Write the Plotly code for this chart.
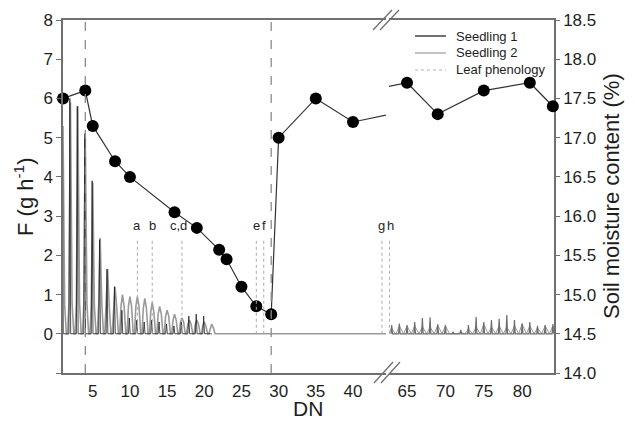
import plotly.graph_objects as go

# ---------------- data ----------------
# left segment of the broken DN axis: daily peak sap flow F (g h-1)
days_s1_left = list(range(1, 22))
s1_left_peak = [5.4, 6.0, 5.8, 5.1, 3.9, 2.4, 1.65, 1.2, 0.6, 0.4,
                0.35, 0.3, 0.35, 0.3, 0.25, 0.2, 0.3, 0.45, 0.5, 0.45, 0]
days_s2_left = list(range(1, 45))
s2_left_peak = [5.3, 5.9, 5.8, 5.0, 3.85, 2.45, 1.65, 1.2, 1.0, 0.95,
                0.95, 0.9, 0.8, 0.7, 0.6, 0.5, 0.4, 0.35, 0.35, 0.3,
                0.25, 0, 0, 0, 0, 0, 0, 0, 0, 0,
                0, 0, 0, 0, 0, 0, 0, 0, 0, 0,
                0, 0, 0, 0]
s2_left_shoulder = [0.75, 0.8, 0.8, 0.75, 0.7, 0.75, 0.7, 0.7, 0.7, 0.7,
                    0.7, 0.65, 0.55, 0.5, 0.45, 0.35, 0.3, 0.25, 0.25, 0.2,
                    0.15, 0, 0, 0, 0, 0, 0, 0, 0, 0,
                    0, 0, 0, 0, 0, 0, 0, 0, 0, 0,
                    0, 0, 0, 0]

# right segment (days 63..84)
days_right = list(range(63, 85))
s1_right_peak = [0.22, 0.26, 0.22, 0.30, 0.40, 0.42, 0.24, 0.22, 0.05, 0.10, 0.22,
                 0.43, 0.30, 0.35, 0.38, 0.48, 0.35, 0.27, 0.30, 0.20, 0.22, 0.25]
s2_right_peak = [0.15, 0.20, 0.20, 0.20, 0.18, 0.17, 0.22, 0.20, 0.0, 0.03, 0.12,
                 0.17, 0.25, 0.17, 0.20, 0.17, 0.20, 0.25, 0.20, 0.15, 0.20, 0.20]

# soil moisture content (%)
smc_days = [1, 4, 5, 8, 10, 16, 19, 22, 23, 25, 27, 29, 30, 35, 40, 65, 69, 75, 81, 84]
smc_vals = [17.5, 17.6, 17.15, 16.7, 16.5, 16.05, 15.85, 15.57, 15.45, 15.1,
            14.85, 14.75, 17.0, 17.5, 17.2, 17.7, 17.3, 17.6, 17.7, 17.4]

# leaf phenology events
phen_left_days = [11, 13, 17, 27, 28, 43.9]
phen_left_labels = ["a", "b", "c,d", "e", "f", "g"]
phen_right_days = [62.7]
phen_right_labels = ["h"]
phen_height = 2.45

# dashed reference days
dashed_days = [4, 29]

legend_names = ["Seedling 1", "Seedling 2", "Leaf phenology"]

LEFT_RANGE = [1, 44.44]
RIGHT_RANGE = [62.65, 84.15]

# ---------------- helpers ----------------
def spikes(days, peaks, offs):
    xs, ys = [], []
    for d, p in zip(days, peaks):
        xs += [d + offs[0], d + offs[1], d + offs[2]]
        ys += [0, p, 0]
    return xs, ys


def bumps(days, peaks, shoulders):
    xs, ys = [], []
    for d, p, s in zip(days, peaks, shoulders):
        xs += [d - 0.38, d - 0.2, d + 0.0, d + 0.22, d + 0.45]
        ys += [0, s, p, s, 0]
    return xs, ys


# window pixel -> paper coordinates (plot area spans x 63..554, y 20..373)
def px(xp):
    return (xp - 63) / 491.0


def py(yp):
    return (373 - yp) / 353.0


fig = go.Figure()

BLACK = "#111111"
GRAY = "#9a9a9a"
AX = "#707070"
TXT = "#1e1e1e"

# seedling 2 underneath, seedling 1 on top
x2, y2 = bumps(days_s2_left, s2_left_peak, s2_left_shoulder)
fig.add_trace(go.Scatter(x=x2, y=y2, mode="lines", line=dict(color=GRAY, width=1.6),
                         showlegend=False, xaxis="x", yaxis="y"))
x1, y1 = spikes(days_s1_left, s1_left_peak, offs=(-0.2, -0.08, 0.03))
fig.add_trace(go.Scatter(x=x1, y=y1, mode="lines", line=dict(color="#202020", width=0.8),
                         showlegend=False, xaxis="x", yaxis="y"))
x2r, y2r = spikes(days_right, s2_right_peak, offs=(-0.45, 0.0, 0.45))
fig.add_trace(go.Scatter(x=x2r, y=y2r, mode="lines", line=dict(color=GRAY, width=1),
                         showlegend=False, xaxis="x2", yaxis="y"))
x1r, y1r = spikes(days_right, s1_right_peak, offs=(-0.1, 0.0, 0.1))
fig.add_trace(go.Scatter(x=x1r, y=y1r, mode="lines", line=dict(color="#6e6e6e", width=1.2),
                         showlegend=False, xaxis="x2", yaxis="y"))

# soil moisture: lines (clipped at the break) + markers (in range only)
for xa, rng in (("x", LEFT_RANGE), ("x2", RIGHT_RANGE)):
    fig.add_trace(go.Scatter(x=smc_days, y=smc_vals, mode="lines",
                             line=dict(color="#333333", width=1.2),
                             showlegend=False, xaxis=xa, yaxis="y2"))
    md = [d for d in smc_days if rng[0] - 0.5 <= d <= rng[1] + 0.5]
    mv = [v for d, v in zip(smc_days, smc_vals) if rng[0] - 0.5 <= d <= rng[1] + 0.5]
    fig.add_trace(go.Scatter(x=md, y=mv, mode="markers",
                             marker=dict(color="#000000", size=12),
                             cliponaxis=False, showlegend=False, xaxis=xa, yaxis="y2"))

shapes = []
for d in dashed_days:
    shapes.append(dict(type="line", xref="x", yref="y domain", x0=d, x1=d, y0=0, y1=1,
                       line=dict(color="#8a8a8a", width=1.3, dash="dash")))
for d in phen_left_days:
    shapes.append(dict(type="line", xref="x", yref="y", x0=d, x1=d, y0=0, y1=phen_height,
                       line=dict(color="#a8a8a8", width=1, dash="dot")))
for d in phen_right_days:
    shapes.append(dict(type="line", xref="x2", yref="y", x0=d, x1=d, y0=0, y1=phen_height,
                       line=dict(color="#a8a8a8", width=1, dash="dot")))

# axis-break marks
for (xa, ya, xb, yb) in [(373, 30, 392, 10), (380, 30, 399, 10),
                         (374, 383, 393, 362), (381, 383, 400, 362)]:
    shapes.append(dict(type="line", xref="paper", yref="paper",
                       x0=px(xa), y0=py(ya), x1=px(xb), y1=py(yb),
                       line=dict(color=AX, width=1.3)))

# legend (drawn manually to match the compact row spacing)
leg_styles = [dict(color=BLACK, width=1.2), dict(color=GRAY, width=1.2),
              dict(color="#b0b0b0", width=1, dash="dot")]
leg_rows = [36, 53, 70]
annotations = []
for name, st, ry in zip(legend_names, leg_styles, leg_rows):
    shapes.append(dict(type="line", xref="paper", yref="paper",
                       x0=px(415), x1=px(446), y0=py(ry), y1=py(ry), line=st))
    annotations.append(dict(text=name, x=px(454), y=py(ry), xref="paper", yref="paper",
                            xanchor="left", yanchor="middle", showarrow=False,
                            font=dict(size=13, color=TXT)))

for d, t in zip(phen_left_days, phen_left_labels):
    dd = d - 0.5 if t == "c,d" else d
    annotations.append(dict(x=dd, y=2.75, xref="x", yref="y", text=t, showarrow=False,
                            xanchor="center", yanchor="middle",
                            font=dict(size=13, color=TXT)))
for d, t in zip(phen_right_days, phen_right_labels):
    annotations.append(dict(x=d + 0.2, y=2.75, xref="x2", yref="y", text=t, showarrow=False,
                            xanchor="center", yanchor="middle",
                            font=dict(size=13, color=TXT)))

annotations += [
    dict(text="F (g h<sup>-1</sup>)", x=px(24), y=py(197), xref="paper", yref="paper",
         xanchor="center", yanchor="middle",
         textangle=-90, showarrow=False, font=dict(size=22, color=TXT)),
    dict(text="Soil moisture content (%)", x=px(611), y=py(196), xref="paper", yref="paper",
         xanchor="center", yanchor="middle",
         textangle=-90, showarrow=False, font=dict(size=22, color=TXT)),
    dict(text="DN", x=px(308), y=py(408), xref="paper", yref="paper",
         xanchor="center", yanchor="middle",
         showarrow=False, font=dict(size=21, color=TXT)),
]

# labelled x axes: invisible outside ticks set the label offset
xlab = dict(showline=True, linecolor=AX, linewidth=1.5, mirror=True,
            ticks="outside", ticklen=2, tickcolor="rgba(0,0,0,0)",
            tick0=0, dtick=5, showgrid=False, zeroline=False, automargin=False,
            tickfont=dict(size=17, color=TXT), anchor="y")
# tick-only overlay x axes: inside major + minor ticks
xtick = dict(showline=False, ticks="inside", ticklen=6, tickcolor=AX, tickwidth=1,
             tick0=0, dtick=5, showticklabels=False, showgrid=False, zeroline=False,
             automargin=False, anchor="y",
             minor=dict(dtick=1, tick0=0, ticks="inside", ticklen=3, tickcolor=AX))

# The page body adds an 8 px offset, so the figure is 8 px smaller and margins shifted.
fig.update_layout(
    width=627, height=413,
    margin=dict(l=55, r=81, t=12, b=48, autoexpand=False),
    paper_bgcolor="white", plot_bgcolor="white",
    font=dict(family="Liberation Sans, Arial, sans-serif", color=TXT),
    xaxis=dict(domain=[0, px(386)], range=LEFT_RANGE, **xlab),
    xaxis2=dict(domain=[px(389), 1], range=RIGHT_RANGE, **xlab),
    xaxis3=dict(overlaying="x", range=LEFT_RANGE, **xtick),
    xaxis4=dict(overlaying="x2", range=RIGHT_RANGE, **xtick),
    yaxis=dict(range=[-1, 8], tickvals=list(range(-1, 9)),
               ticktext=[""] + [str(i) for i in range(0, 9)],
               showline=True, linecolor=AX, linewidth=1.5, ticks="outside",
               ticklen=5, tickcolor=AX, showgrid=False, zeroline=False, automargin=False,
               tickfont=dict(size=17, color=TXT), anchor="x"),
    yaxis2=dict(range=[14, 18.5], tickvals=[14 + 0.5 * i for i in range(10)],
                ticktext=["%.1f" % (14 + 0.5 * i) for i in range(10)],
                overlaying="y", side="right", anchor="x2",
                showline=True, linecolor=AX, linewidth=1.5, ticks="outside",
                ticklen=4, tickcolor=AX, showgrid=False, zeroline=False, automargin=False,
                tickfont=dict(size=17, color=TXT)),
    showlegend=False,
    shapes=shapes,
    annotations=annotations,
)

fig.write_html("out.html")
